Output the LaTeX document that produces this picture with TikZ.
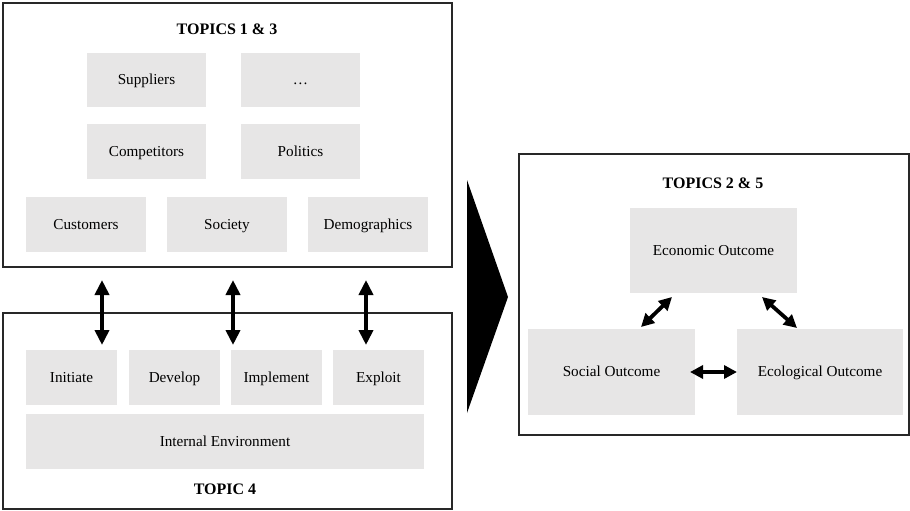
\documentclass[tikz,border=0pt]{standalone}
\usepackage{fontspec}
\setmainfont{Liberation Serif}
\usetikzlibrary{arrows.meta}
\definecolor{boxgray}{RGB}{231,230,230}
\definecolor{frame}{RGB}{40,40,40}
\begin{document}
\begin{tikzpicture}[x=1pt,y=-1pt,
  panel/.style={draw=frame,line width=1.3pt,fill=white},
  item/.style={fill=boxgray,inner sep=0pt,text height=12pt,text depth=3pt,
    font=\fontsize{15.2}{17}\selectfont},
  heading/.style={font=\fontsize{16}{18}\selectfont\bfseries},
  dblarrow/.style={line width=4.3pt,{Triangle[length=15pt,width=14pt]}-{Triangle[length=15pt,width=14pt]}},
  dblsmall/.style={line width=3.8pt,{Triangle[length=13pt,width=13pt]}-{Triangle[length=13pt,width=13pt]}},
]
\useasboundingbox (0,0) rectangle (910,511);

% left column: external environment
\draw[panel] (3,3) rectangle (452,267);
\node[heading] (t13) at (227,29) {TOPICS 1 \& 3};
\node[item,minimum width=119pt,minimum height=54pt] (sup) at (146.5,80) {Suppliers};
\node[item,minimum width=119pt,minimum height=54pt] (etc) at (300.5,80) {\dots};
\node[item,minimum width=119pt,minimum height=55pt] (comp) at (146.5,151.5) {Competitors};
\node[item,minimum width=119pt,minimum height=55pt] (pol) at (300.5,151.5) {Politics};
\node[item,minimum width=120pt,minimum height=55pt] (cust) at (86,224.5) {Customers};
\node[item,minimum width=120pt,minimum height=55pt] (soc) at (227,224.5) {Society};
\node[item,minimum width=120pt,minimum height=55pt] (demo) at (368,224.5) {Demographics};

% left column: innovation process
\draw[panel] (3,313) rectangle (452,509);
\node[item,minimum width=91pt,minimum height=55pt] (init) at (71.5,377.5) {Initiate};
\node[item,minimum width=91pt,minimum height=55pt] (dev) at (174.5,377.5) {Develop};
\node[item,minimum width=91pt,minimum height=55pt] (impl) at (276.5,377.5) {Implement};
\node[item,minimum width=91pt,minimum height=55pt] (expl) at (378.5,377.5) {Exploit};
\node[item,minimum width=398pt,minimum height=55pt] (ienv) at (225,441.5) {Internal Environment};
\node[heading] (t4) at (225,489) {TOPIC 4};

% links between the two panels
\coordinate (l1a) at (102,280); \coordinate (l1b) at (102,345);
\coordinate (l2a) at (233,280); \coordinate (l2b) at (233,345);
\coordinate (l3a) at (366,280); \coordinate (l3b) at (366,345);
\draw[dblarrow] (l1a) -- (l1b);
\draw[dblarrow] (l2a) -- (l2b);
\draw[dblarrow] (l3a) -- (l3b);

% transition arrow
\fill[black] (467,180) -- (508,297) -- (467,413) -- cycle;

% right column: outcomes
\draw[panel] (519,154) rectangle (909,435);
\node[heading] (t25) at (713,183) {TOPICS 2 \& 5};
\node[item,minimum width=167pt,minimum height=85pt] (eco) at (713.5,250.5) {Economic Outcome};
\node[item,minimum width=167pt,minimum height=86pt] (social) at (611.5,372) {Social Outcome};
\node[item,minimum width=166pt,minimum height=86pt] (ecol) at (820,372) {Ecological Outcome};

\coordinate (d1a) at (672,297); \coordinate (d1b) at (641,327);
\coordinate (d2a) at (762,297); \coordinate (d2b) at (797,328);
\coordinate (h1a) at (690,372); \coordinate (h1b) at (737,372);
\draw[dblsmall] (d1a) -- (d1b);
\draw[dblsmall] (d2a) -- (d2b);
\draw[dblsmall] (h1a) -- (h1b);
\end{tikzpicture}
\end{document}
